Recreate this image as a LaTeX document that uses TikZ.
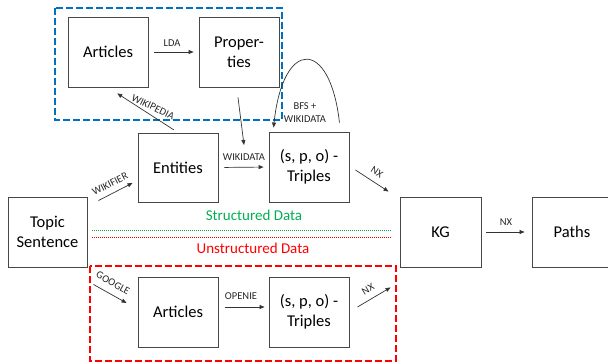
\documentclass[tikz,border=0pt]{standalone}
\usepackage{fontspec}
\setmainfont{Carlito}
\usetikzlibrary{arrows.meta}
\definecolor{dblue}{RGB}{0,112,192}
\definecolor{dred}{RGB}{255,0,0}
\definecolor{dgreen}{RGB}{0,176,80}
\begin{document}
\begin{tikzpicture}[x=1pt,y=-1pt,
  box/.style={draw=black!72,line width=0.9pt,minimum width=80pt,minimum height=70pt,inner sep=0pt,align=center,
    font=\fontsize{16.5}{20}\selectfont},
  arr/.style={draw=black!80,line width=0.7pt,-{Triangle[length=5pt,width=4pt]}},
  lbl/.style={font=\fontsize{10.5}{13}\selectfont,inner sep=0pt,align=center,text=black!85},
  grp/.style={line width=2pt,dash pattern=on 7pt off 3pt}]
\useasboundingbox (0,0) rectangle (608,364);
% group boxes
\draw[grp,dblue] (55,8) rectangle (282,120);
\draw[grp,dred] (90,266) rectangle (396,361);
% nodes
\node[box] (artA) at (108,52) {Articles};
\node[box] (prop) at (239,52) {Proper-\\ties};
\node[box,minimum height=69pt] (ent) at (178,167.5) {Entities};
\node[box] (tripA) at (309,167) {(s, p, o) -\\Triples};
\node[box,minimum width=79pt] (topic) at (47.5,232) {Topic\\Sentence};
\node[box,minimum width=81pt] (kg) at (440.5,232) {KG};
\node[box] (paths) at (572,232) {Paths};
\node[box] (artB) at (178,312) {Articles};
\node[box] (tripB) at (309,312) {(s, p, o) -\\Triples};
% separator
\draw[dgreen,line width=1pt,dash pattern=on 1pt off 1pt] (92,230) -- (391,230);
\draw[dred,line width=1pt,dash pattern=on 1pt off 1pt] (92,237) -- (391,237);
\node[font=\fontsize{15}{18}\selectfont,text=dgreen] (sd) at (254,215) {Structured Data};
\node[font=\fontsize{15}{18}\selectfont,text=dred] (ud) at (253,248) {Unstructured Data};
% connectors
\draw[arr,shorten <=6pt,shorten >=5pt] (artA.east) -- (prop.west);
\node[lbl] (lda) at (172,43) {LDA};
\draw[arr,shorten <=5pt,shorten >=11pt] (ent.north) -- (artA.south);
\node[lbl,rotate=-25.5] (wp) at (153,107) {WIKIPEDIA};
\coordinate (merge) at (244,145);
\draw[arr] ([shift={(-1,10)}]prop.south) -- (merge);
\draw[arr,shorten <=6pt,shorten >=5pt] (ent.east) -- (tripA.west);
\node[lbl] (wd) at (244,157) {WIKIDATA};
\draw[arr] ([shift={(11,4)}]topic.north east) -- ([shift={(-5,15.5)}]ent.west);
\node[lbl,rotate=27.2] (wf) at (110,184) {WIKIFIER};
\draw[arr] ([shift={(-10,-9)}]tripA.north east) .. controls (330,38) and (283,38) .. ([shift={(5,-4)}]tripA.north west);
\node[lbl] (bfs) at (305,113) {BFS +\\WIKIDATA};
\draw[arr] ([shift={(6,3)}]tripA.east) -- ([shift={(-11,-5)}]kg.north west);
\node[lbl,rotate=-32.9] (nx1) at (377,172) {NX};
\draw[arr,shorten <=5pt,shorten >=7pt] (kg.east) -- (paths.west);
\node[lbl] (nx2) at (506,222) {NX};
\draw[arr] ([shift={(6,17)}]topic.south east) -- ([shift={(-11,-9)}]artB.west);
\node[lbl,rotate=-29.2] (gg) at (113,283) {GOOGLE};
\draw[arr,shorten <=7pt,shorten >=4pt] ([shift={(0,-5)}]artB.east) -- ([shift={(0,-5)}]tripB.west);
\node[lbl] (oie) at (241,296) {OPENIE};
\draw[arr] ([shift={(8,-5)}]tripB.east) -- ([shift={(-9,20)}]kg.south west);
\node[lbl,rotate=30.5] (nx3) at (368,289) {NX};
\end{tikzpicture}
\end{document}
